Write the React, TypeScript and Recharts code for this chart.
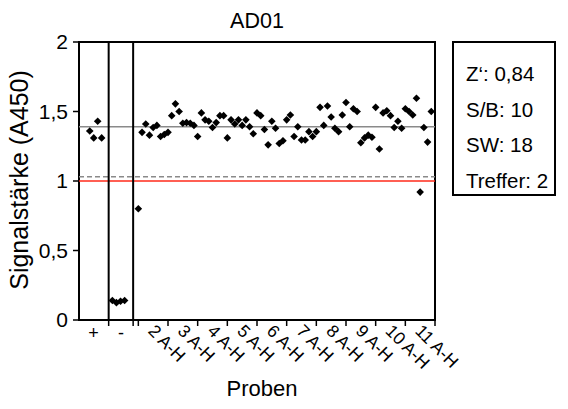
import React from 'react';
import { ScatterChart, Scatter, XAxis, YAxis, ReferenceLine, ReferenceArea, Customized } from 'recharts';

const title = 'AD01';
const yLabel = 'Signalstärke (A450)';
const xLabel = 'Proben';
const yTicks = [0, 0.5, 1, 1.5, 2];
const controlLabels = ['+', '-'];
const groupLabels = ['2 A-H', '3 A-H', '4 A-H', '5 A-H', '6 A-H', '7 A-H', '8 A-H', '9 A-H', '10 A-H', '11 A-H'];
const positiveValues = [1.36, 1.31, 1.43, 1.31];
const negativeValues = [0.14, 0.125, 0.135, 0.14];
const sampleValues = [
  0.80, 1.35, 1.41, 1.33, 1.385, 1.40, 1.32, 1.335, 1.35, 1.47,
  1.555, 1.50, 1.415, 1.42, 1.415, 1.40, 1.32, 1.49, 1.44, 1.43,
  1.385, 1.42, 1.47, 1.47, 1.31, 1.44, 1.41, 1.44, 1.40, 1.44,
  1.39, 1.34, 1.49, 1.47, 1.37, 1.26, 1.43, 1.38, 1.27, 1.29,
  1.44, 1.475, 1.32, 1.39, 1.295, 1.295, 1.355, 1.32, 1.355, 1.53,
  1.40, 1.54, 1.46, 1.38, 1.355, 1.475, 1.565, 1.39, 1.52, 1.50,
  1.275, 1.31, 1.33, 1.315, 1.53, 1.23, 1.49, 1.505, 1.47, 1.385,
  1.43, 1.38, 1.52, 1.50, 1.475, 1.595, 0.92, 1.385, 1.28, 1.50,
];
const meanValue = 1.39;
const dashedValue = 1.03;
const thresholdValue = 1.0;
const statsLines = ['Z‘: 0,84', 'S/B: 10', 'SW: 18', 'Treffer: 2'];

// x layout (axis units)
const X_MAX = 96;
const POS_END = 8;
const NEG_END = 14.6;
const SAMPLE_START = 16;
const GROUP_SIZE = 8;

const positiveData = positiveValues.map((v, i) => ({ x: 2.9 + i * 1.07, y: v }));
const negativeData = negativeValues.map((v, i) => ({ x: 9.0 + i * 1.1, y: v }));
const sampleData = sampleValues.map((v, i) => ({ x: SAMPLE_START + i, y: v }));

const boundaryTicks = [POS_END, NEG_END, ...groupLabels.map((_, i) => SAMPLE_START + i * GROUP_SIZE), X_MAX];
const controlTickPos = [POS_END / 2 - 0.1, (POS_END + NEG_END) / 2];
const groupTickPos = groupLabels.map((_, i) => SAMPLE_START + i * GROUP_SIZE + GROUP_SIZE / 2);
const allTicks = [...controlTickPos, ...boundaryTicks, ...groupTickPos].sort((a, b) => a - b);

const FONT = 'Liberation Sans, Arial, sans-serif';

const Diamond = (props: any) => {
  const { cx, cy } = props;
  const r = 3.8;
  return <path d={`M${cx},${cy - r}L${cx + r},${cy}L${cx},${cy + r}L${cx - r},${cy}Z`} fill="#000" />;
};

const XTick = (props: any) => {
  const { x, y, payload } = props;
  const v = payload.value;
  const bi = boundaryTicks.findIndex((b) => Math.abs(b - v) < 1e-6);
  if (bi >= 0) {
    return <line x1={x} x2={x} y1={y} y2={y + 6} stroke="#000" strokeWidth={1.5} />;
  }
  const ci = controlTickPos.findIndex((b) => Math.abs(b - v) < 1e-6);
  if (ci >= 0) {
    return (
      <text x={x} y={y + 19} textAnchor="middle" fontSize={18} fontFamily={FONT} fill="#000">
        {controlLabels[ci]}
      </text>
    );
  }
  const gi = groupTickPos.findIndex((b) => Math.abs(b - v) < 1e-6);
  if (gi >= 0) {
    const ax = x - 6;
    const ay = y + 12;
    return (
      <text x={ax} y={ay} transform={`rotate(45 ${ax} ${ay})`} textAnchor="start" fontSize={17.5} fontFamily={FONT} fill="#000">
        {groupLabels[gi]}
      </text>
    );
  }
  return null;
};

const Extras = () => (
  <g fontFamily={FONT} fill="#000">
    <text x={257} y={28} textAnchor="middle" fontSize={21.5}>{title}</text>
    <text x={28} y={180} transform="rotate(-90 28 180)" textAnchor="middle" fontSize={25}>{yLabel}</text>
    <text x={262} y={396} textAnchor="middle" fontSize={22}>{xLabel}</text>
    <rect x={453} y={42} width={102} height={153} fill="#fff" stroke="#000" strokeWidth={2} />
    {statsLines.map((s, i) => (
      <text key={s} x={466} y={81 + i * 35.5} fontSize={20.5}>{s}</text>
    ))}
  </g>
);

export default function App() {
  return (
    <div style={{ position: 'absolute', left: 0, top: 0, width: 568, height: 409, background: '#fff' }}>
      <ScatterChart width={568} height={409} margin={{ top: 42, right: 133, bottom: 0, left: 0 }}>
        <XAxis
          type="number"
          dataKey="x"
          domain={[0, X_MAX]}
          ticks={allTicks}
          interval={0}
          axisLine={false}
          tickLine={false}
          tickSize={0}
          tickMargin={0}
          height={89}
          tick={<XTick />}
          allowDataOverflow
        />
        <YAxis
          type="number"
          dataKey="y"
          domain={[0, 2]}
          ticks={yTicks}
          width={79}
          axisLine={false}
          tickSize={6}
          tickMargin={5}
          tickLine={{ stroke: '#000', strokeWidth: 1.5 }}
          tick={{ fill: '#000', fontSize: 21, fontFamily: FONT }}
          tickFormatter={(v: number) => String(v).replace('.', ',')}
        />
        <ReferenceLine y={meanValue} stroke="#8a8a8a" strokeWidth={1.5} />
        <ReferenceLine y={dashedValue} stroke="#8a8a8a" strokeWidth={1.5} strokeDasharray="5 3" />
        <ReferenceLine y={thresholdValue} stroke="#ff2a1a" strokeWidth={1.5} />
        <ReferenceLine x={POS_END} stroke="#000" strokeWidth={2} />
        <ReferenceLine x={NEG_END} stroke="#000" strokeWidth={2} />
        <ReferenceArea x1={0} x2={X_MAX} y1={0} y2={2} fill="none" fillOpacity={0} stroke="#000" strokeWidth={2} />
        <Scatter data={positiveData} shape={<Diamond />} isAnimationActive={false} />
        <Scatter data={negativeData} shape={<Diamond />} isAnimationActive={false} />
        <Scatter data={sampleData} shape={<Diamond />} isAnimationActive={false} />
        <Customized component={<Extras />} />
      </ScatterChart>
    </div>
  );
}
